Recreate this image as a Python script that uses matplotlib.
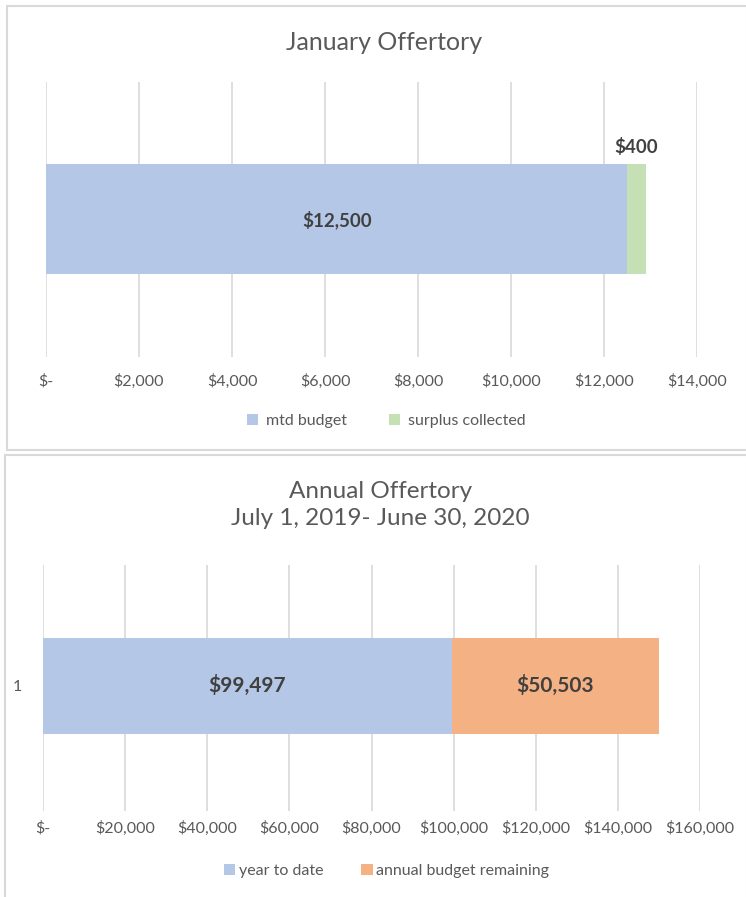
import matplotlib
matplotlib.use("Agg")
import matplotlib.pyplot as plt
from matplotlib.patches import Rectangle

plt.rcParams["font.family"] = ["Lato", "DejaVu Sans"]

# January chart
jan_series = ["mtd budget", "surplus collected"]
jan_values = [12500, 400]
jan_ticks = [0, 2000, 4000, 6000, 8000, 10000, 12000, 14000]

# Annual chart
ann_series = ["year to date", "annual budget remaining"]
ann_values = [99497, 50503]
ann_ticks = [0, 20000, 40000, 60000, 80000, 100000, 120000, 140000, 160000]

BLUE, GREEN, ORANGE = "#B4C7E7", "#C5E0B4", "#F4B183"
TXT, LBL, GRID = "#595959", "#404040", "#D9D9D9"


def money(v):
    return "$-" if v == 0 else f"${v:,.0f}"


def style_axes(ax, ticks, pad):
    ax.set_xticks(ticks)
    ax.set_xticklabels([money(t) for t in ticks], color=TXT, fontsize=11.5)
    ax.set_xlim(ticks[0], ticks[-1])
    ax.grid(axis="x", color=GRID, lw=1.2)
    ax.set_axisbelow(True)
    for s in ax.spines.values():
        s.set_visible(False)
    ax.tick_params(length=0, pad=pad)


fig = plt.figure(figsize=(7.46, 8.97), dpi=100)

# chart frames
fig.patches.append(Rectangle((7 / 746, 1 - 450 / 897), 740 / 746, 444 / 897,
                             transform=fig.transFigure, fill=False,
                             edgecolor=GRID, lw=1.5))
fig.patches.append(Rectangle((5 / 746, -0.01), 742 / 746, 1 - 455 / 897 + 0.01,
                             transform=fig.transFigure, fill=False,
                             edgecolor=GRID, lw=1.5))

# ---- January ----
ax1 = fig.add_axes([46 / 746, 1 - 357 / 897, 651 / 746, 275 / 897])
left = 0
cols1 = [BLUE, GREEN]
for name, v, c in zip(jan_series, jan_values, cols1):
    ax1.barh(0, v, left=left, height=0.4, color=c, label=name)
    left += v
style_axes(ax1, jan_ticks, 12)
ax1.set_ylim(-0.5, 0.5)
ax1.set_yticks([])
ax1.text(jan_values[0] / 2, 0, money(jan_values[0]), ha="center", va="center",
         fontsize=13.5, fontweight="bold", color=LBL)
ax1.text(jan_values[0] + jan_values[1] / 2, 0.23, money(jan_values[1]),
         ha="center", va="bottom", fontsize=13.5, fontweight="bold", color=LBL)
fig.text(0.515, 1 - 42 / 897, "January Offertory", ha="center", va="center",
         fontsize=18, color=TXT)
fig.legend(*ax1.get_legend_handles_labels(), loc="center",
           bbox_to_anchor=(0.518, 1 - 421 / 897), ncol=2, frameon=False,
           fontsize=11.5, labelcolor=TXT, handlelength=0.7, handleheight=0.7,
           handletextpad=0.5, columnspacing=2.6)

# ---- Annual ----
ax2 = fig.add_axes([43 / 746, 1 - 811 / 897, 657 / 746, 246 / 897])
left = 0
cols2 = [BLUE, ORANGE]
for name, v, c in zip(ann_series, ann_values, cols2):
    ax2.barh(0, v, left=left, height=0.39, color=c, label=name)
    ax2.text(left + v / 2, 0, money(v), ha="center", va="center",
             fontsize=15, fontweight="bold", color=LBL)
    left += v
style_axes(ax2, ann_ticks, 7)
ax2.set_ylim(-0.51, 0.49)
ax2.set_yticks([0])
ax2.set_yticklabels(["1"], color=TXT, fontsize=11.5)
ax2.tick_params(axis="y", pad=15)
fig.text(0.51, 1 - 505 / 897, "Annual Offertory\nJuly 1, 2019- June 30, 2020",
         ha="center", va="center", fontsize=17.5, color=TXT, linespacing=1.3)
fig.legend(*ax2.get_legend_handles_labels(), loc="center",
           bbox_to_anchor=(0.518, 1 - 871 / 897), ncol=2, frameon=False,
           fontsize=11.5, labelcolor=TXT, handlelength=0.7, handleheight=0.7,
           handletextpad=0.2, columnspacing=2.4)

fig.savefig("out.png", dpi=100, facecolor="white")
